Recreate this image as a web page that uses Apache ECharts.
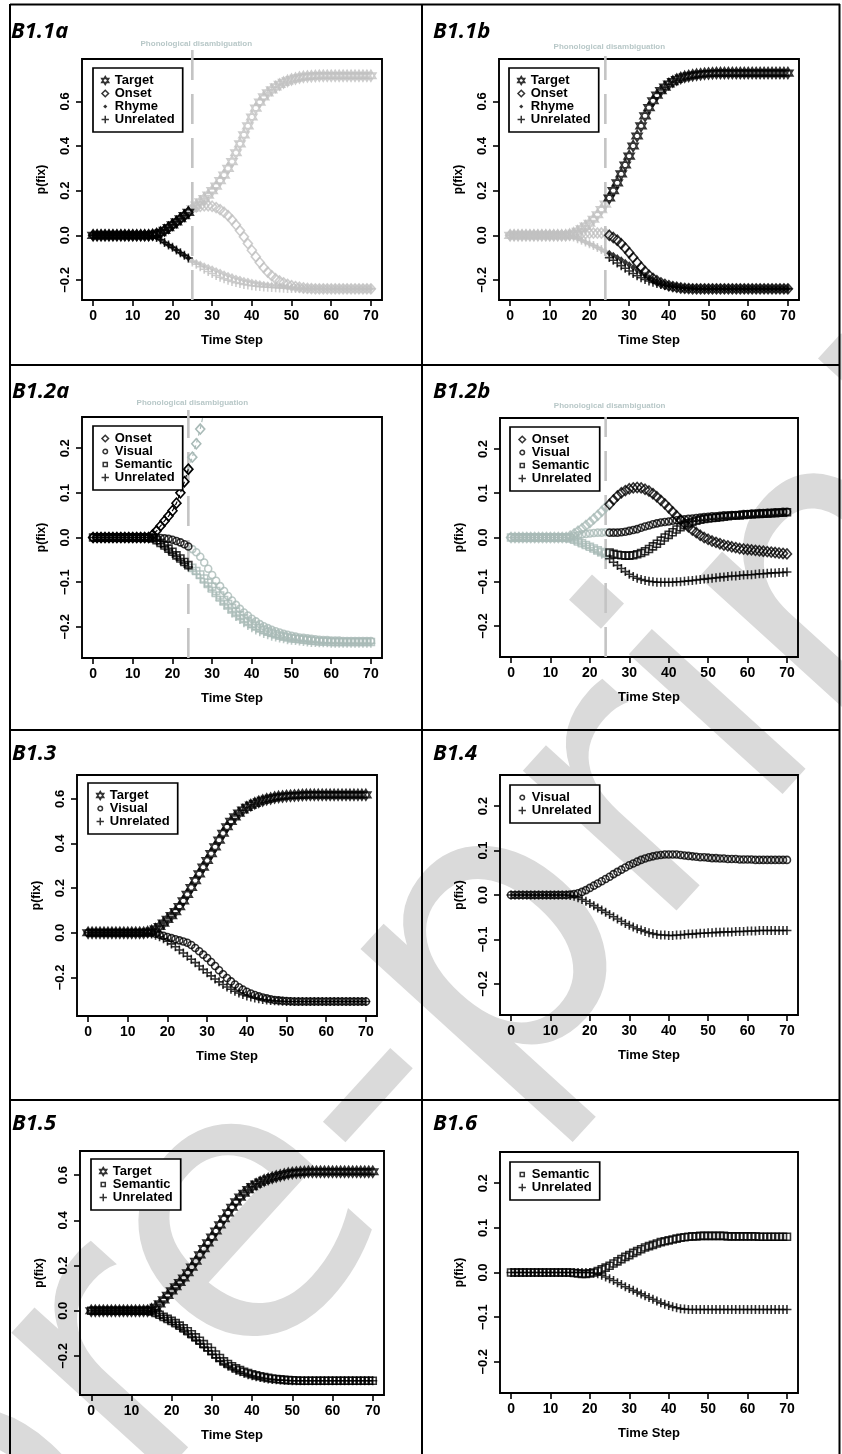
<!DOCTYPE html>
<html><head><meta charset="utf-8">
<script src="https://cdn.jsdelivr.net/npm/echarts@6/dist/echarts.min.js"></script>
<style>html,body{margin:0;padding:0;background:#fff}#c{width:842px;height:1454px}</style>
</head><body><div id="c"></div>
<script>
// ---------------- data ----------------
const timeSteps = [0,1,2,3,4,5,6,7,8,9,10,11,12,13,14,15,16,17,18,19,20,21,22,23,24,25,26,27,28,29,30,31,32,33,34,35,36,37,38,39,40,41,42,43,44,45,46,47,48,49,50,51,52,53,54,55,56,57,58,59,60,61,62,63,64,65,66,67,68,69,70];
const xTicks = [0,10,20,30,40,50,60,70];
const yTicksWide = [-0.2,0,0.2,0.4,0.6];
const yTicksNarrow = [-0.2,-0.1,0,0.1,0.2];
const panelTitles = ['B1.1a','B1.1b','B1.2a','B1.2b','B1.3','B1.4','B1.5','B1.6'];
const disambiguationStep = [25,24,24,24];
const disambiguationLabel = 'Phonological disambiguation';
const xAxisTitle = 'Time Step';
const yAxisTitle = 'p(fix)';
const watermarkText = 'pre-print';

// B1.1a
const b11aTarget = [0,0,0,0,0,0,0,0,0,0,
0,0,0,0,0,.002,.006,.012,.022,.034,
.047,.06,.074,.088,.103,.12,.135,.15,.165,.18,
.2,.22,.245,.27,.3,.33,.37,.41,.45,.49,
.53,.57,.597,.62,.638,.652,.665,.676,.685,.692,
.698,.703,.707,.71,.712,.713,.714,.715,.715,.715,
.715,.715,.715,.715,.715,.715,.715,.715,.715,.715,
.715];
const b11aOnset = [0,0,0,0,0,0,0,0,0,0,
0,0,0,0,0,.002,.006,.012,.022,.034,
.047,.06,.074,.088,.103,.12,.126,.13,.132,.132,
.13,.124,.115,.103,.088,.069,.047,.021,-.007,-.037,
-.067,-.096,-.122,-.145,-.165,-.181,-.195,-.205,-.213,-.22,
-.226,-.23,-.233,-.236,-.238,-.239,-.24,-.24,-.24,-.24,
-.24,-.24,-.24,-.24,-.24,-.24,-.24,-.24,-.24,-.24,
-.24];
const b11aRhyme = [0,0,0,0,0,0,0,0,0,0,
0,0,0,0,0,-.003,-.01,-.02,-.032,-.043,
-.054,-.066,-.078,-.09,-.102,-.115,-.122,-.129,-.136,-.143,
-.15,-.158,-.165,-.172,-.179,-.185,-.191,-.196,-.201,-.205,
-.209,-.213,-.216,-.219,-.222,-.224,-.226,-.228,-.23,-.232,
-.233,-.234,-.235,-.236,-.237,-.238,-.239,-.239,-.24,-.24,
-.24,-.24,-.24,-.24,-.24,-.24,-.24,-.24,-.24,-.24,
-.24];
const b11aUnrelated = [0,0,0,0,0,0,0,0,0,0,
0,0,0,0,0,-.003,-.01,-.02,-.032,-.043,
-.054,-.066,-.078,-.09,-.102,-.12,-.13,-.141,-.152,-.162,
-.171,-.18,-.188,-.195,-.201,-.207,-.212,-.216,-.22,-.223,
-.226,-.228,-.23,-.232,-.233,-.234,-.235,-.236,-.237,-.238,
-.238,-.239,-.239,-.24,-.24,-.24,-.24,-.24,-.24,-.24,
-.24,-.24,-.24,-.24,-.24,-.24,-.24,-.24,-.24,-.24,
-.24];

// B1.1b
const b11bTarget = [0,0,0,0,0,0,0,0,0,0,
0,0,0,0,0,.003,.009,.018,.029,.041,
.054,.072,.092,.115,.14,.167,.2,.235,.275,.315,
.355,.4,.445,.49,.535,.572,.603,.628,.648,.664,
.678,.689,.698,.705,.71,.714,.717,.72,.722,.724,
.725,.726,.727,.727,.727,.727,.727,.727,.727,.727,
.727,.727,.727,.727,.727,.727,.727,.727,.727,.727,
.727];
const b11bOnset = [0,0,0,0,0,0,0,0,0,0,
0,0,0,0,0,.001,.003,.005,.007,.008,
.009,.01,.01,.01,.01,0,-.01,-.022,-.038,-.057,
-.078,-.1,-.122,-.143,-.162,-.179,-.193,-.204,-.213,-.22,
-.226,-.23,-.233,-.236,-.238,-.239,-.24,-.24,-.24,-.24,
-.24,-.24,-.24,-.24,-.24,-.24,-.24,-.24,-.24,-.24,
-.24,-.24,-.24,-.24,-.24,-.24,-.24,-.24,-.24,-.24,
-.24];
const b11bRhyme = [0,0,0,0,0,0,0,0,0,0,
0,0,0,0,0,-.003,-.008,-.015,-.022,-.03,
-.038,-.046,-.055,-.064,-.073,-.08,-.09,-.1,-.11,-.121,
-.132,-.144,-.156,-.168,-.179,-.189,-.198,-.206,-.213,-.219,
-.224,-.228,-.231,-.234,-.236,-.238,-.239,-.24,-.24,-.24,
-.24,-.24,-.24,-.24,-.24,-.24,-.24,-.24,-.24,-.24,
-.24,-.24,-.24,-.24,-.24,-.24,-.24,-.24,-.24,-.24,
-.24];
const b11bUnrelated = [0,0,0,0,0,0,0,0,0,0,
0,0,0,0,0,-.003,-.008,-.015,-.022,-.03,
-.038,-.046,-.055,-.064,-.073,-.1,-.112,-.124,-.136,-.148,
-.16,-.171,-.181,-.19,-.198,-.205,-.211,-.216,-.221,-.225,
-.228,-.231,-.233,-.235,-.237,-.238,-.239,-.24,-.24,-.24,
-.24,-.24,-.24,-.24,-.24,-.24,-.24,-.24,-.24,-.24,
-.24,-.24,-.24,-.24,-.24,-.24,-.24,-.24,-.24,-.24,
-.24];

// B1.2a (onset leaves the plot above 0.27 after step 27)
const b12aOnset = [0,0,0,0,0,0,0,0,0,0,
0,0,0,0,0,.006,.015,.026,.037,.048,
.06,.077,.1,.125,.153,.18,.21,.243,.285,.33,
null,null,null,null,null,null,null,null,null,null,
null,null,null,null,null,null,null,null,null,null,
null,null,null,null,null,null,null,null,null,null,
null,null,null,null,null,null,null,null,null,null,
null];
const b12aVisual = [0,0,0,0,0,0,0,0,0,0,
0,0,0,0,0,0,0,-.001,-.002,-.003,
-.005,-.008,-.011,-.015,-.02,-.026,-.033,-.043,-.056,-.07,
-.084,-.097,-.109,-.12,-.131,-.141,-.151,-.16,-.168,-.175,
-.182,-.188,-.194,-.199,-.203,-.207,-.21,-.213,-.216,-.218,
-.22,-.222,-.224,-.225,-.226,-.227,-.228,-.229,-.23,-.23,
-.231,-.231,-.231,-.232,-.232,-.232,-.232,-.232,-.232,-.232,
-.232];
const b12aSemantic = [0,0,0,0,0,0,0,0,0,0,
0,0,0,0,0,-.002,-.006,-.012,-.018,-.025,
-.032,-.04,-.047,-.055,-.062,-.068,-.075,-.083,-.092,-.101,
-.11,-.12,-.13,-.14,-.149,-.158,-.166,-.174,-.181,-.187,
-.193,-.198,-.203,-.207,-.211,-.214,-.217,-.22,-.222,-.224,
-.226,-.227,-.228,-.229,-.23,-.231,-.232,-.233,-.233,-.233,
-.234,-.234,-.234,-.234,-.234,-.234,-.234,-.234,-.234,-.234,
-.234];
const b12aUnrelated = [0,0,0,0,0,0,0,0,0,0,
0,0,0,0,0,-.003,-.008,-.014,-.021,-.028,
-.036,-.043,-.051,-.058,-.066,-.072,-.082,-.092,-.102,-.112,
-.122,-.132,-.142,-.151,-.16,-.169,-.177,-.184,-.191,-.197,
-.202,-.207,-.211,-.215,-.218,-.221,-.223,-.225,-.227,-.229,
-.23,-.231,-.232,-.233,-.234,-.235,-.235,-.236,-.236,-.236,
-.237,-.237,-.237,-.237,-.237,-.237,-.237,-.237,-.237,-.237,
-.237];

// B1.2b
const b12bOnset = [0,0,0,0,0,0,0,0,0,0,
0,0,0,0,0,.003,.008,.014,.02,.027,
.034,.042,.05,.059,.068,.075,.085,.094,.101,.106,
.11,.112,.113,.112,.109,.105,.099,.092,.084,.076,
.067,.058,.049,.04,.032,.024,.017,.011,.005,0,
-.004,-.008,-.011,-.014,-.017,-.019,-.021,-.023,-.025,-.026,
-.027,-.028,-.029,-.03,-.031,-.032,-.033,-.034,-.035,-.036,
-.037];
const b12bVisual = [0,0,0,0,0,0,0,0,0,0,
0,0,0,0,0,.001,.003,.005,.007,.008,
.009,.01,.011,.011,.012,.011,.011,.011,.012,.013,
.015,.017,.019,.022,.025,.027,.03,.032,.034,.035,
.036,.038,.039,.04,.041,.042,.043,.044,.045,.046,
.047,.048,.048,.049,.05,.05,.051,.051,.052,.053,
.053,.054,.054,.055,.055,.056,.056,.057,.057,.058,
.058];
const b12bSemantic = [0,0,0,0,0,0,0,0,0,0,
0,0,0,0,0,-.002,-.005,-.009,-.013,-.017,
-.021,-.025,-.029,-.033,-.036,-.034,-.037,-.039,-.04,-.041,
-.041,-.04,-.038,-.035,-.031,-.026,-.02,-.014,-.007,0,
.006,.012,.018,.023,.028,.032,.035,.038,.04,.042,
.043,.044,.045,.046,.047,.048,.049,.05,.05,.051,
.052,.052,.053,.053,.054,.054,.055,.055,.056,.056,
.057];
const b12bUnrelated = [0,0,0,0,0,0,0,0,0,0,
0,0,0,0,0,-.002,-.006,-.01,-.014,-.018,
-.023,-.028,-.033,-.038,-.043,-.048,-.056,-.063,-.07,-.077,
-.083,-.088,-.092,-.095,-.097,-.099,-.1,-.101,-.101,-.101,
-.101,-.101,-.1,-.1,-.099,-.098,-.097,-.096,-.095,-.094,
-.093,-.092,-.091,-.09,-.089,-.088,-.087,-.087,-.086,-.085,
-.084,-.084,-.083,-.082,-.082,-.081,-.08,-.08,-.079,-.079,
-.078];

// B1.3
const b13Target = [0,0,0,0,0,0,0,0,0,0,
0,0,0,0,0,.003,.008,.016,.028,.043,
.06,.077,.095,.117,.143,.172,.203,.234,.264,.294,
.324,.355,.385,.415,.446,.475,.499,.519,.536,.55,
.562,.572,.58,.587,.593,.598,.602,.606,.609,.611,
.613,.614,.615,.616,.617,.618,.618,.618,.618,.618,
.618,.618,.618,.618,.618,.618,.618,.618,.618,.618,
.618];
const b13Visual = [0,0,0,0,0,0,0,0,0,0,
0,0,0,0,0,0,-.001,-.004,-.009,-.014,
-.019,-.024,-.029,-.034,-.039,-.045,-.055,-.068,-.083,-.098,
-.113,-.131,-.149,-.168,-.186,-.203,-.218,-.232,-.244,-.255,
-.264,-.272,-.279,-.285,-.29,-.294,-.298,-.301,-.303,-.305,
-.306,-.307,-.308,-.308,-.308,-.308,-.308,-.308,-.308,-.308,
-.308,-.308,-.308,-.308,-.308,-.308,-.308,-.308,-.308,-.308,
-.308];
const b13Unrelated = [0,0,0,0,0,0,0,0,0,0,
0,0,0,0,0,-.002,-.006,-.011,-.018,-.027,
-.038,-.05,-.063,-.077,-.091,-.105,-.119,-.134,-.149,-.164,
-.179,-.193,-.207,-.22,-.232,-.243,-.253,-.262,-.27,-.277,
-.283,-.288,-.292,-.296,-.299,-.301,-.303,-.305,-.306,-.307,
-.308,-.308,-.308,-.308,-.308,-.308,-.308,-.308,-.308,-.308,
-.308,-.308,-.308,-.308,-.308,-.308,-.308,-.308,-.308,-.308,
-.308];

// B1.4
const b14Visual = [0,0,0,0,0,0,0,0,0,0,
0,0,0,0,0,.001,.002,.004,.007,.011,
.016,.021,.026,.031,.036,.041,.047,.052,.057,.062,
.067,.071,.075,.079,.082,.085,.087,.089,.09,.091,
.091,.091,.091,.09,.089,.088,.087,.086,.085,.085,
.084,.083,.083,.082,.082,.081,.081,.081,.08,.08,
.08,.08,.079,.079,.079,.079,.079,.079,.079,.079,
.079];
const b14Unrelated = [0,0,0,0,0,0,0,0,0,0,
0,0,0,0,0,-.001,-.003,-.006,-.01,-.014,
-.019,-.024,-.029,-.034,-.039,-.044,-.049,-.054,-.059,-.064,
-.068,-.072,-.076,-.079,-.082,-.085,-.087,-.089,-.09,-.09,
-.091,-.091,-.09,-.09,-.089,-.088,-.088,-.087,-.086,-.086,
-.085,-.085,-.084,-.084,-.083,-.083,-.083,-.082,-.082,-.082,
-.081,-.081,-.081,-.08,-.08,-.08,-.08,-.08,-.08,-.08,
-.08];

// B1.5
const b15Target = [0,0,0,0,0,0,0,0,0,0,
0,0,0,0,0,.006,.015,.03,.048,.068,
.088,.106,.125,.145,.168,.193,.219,.247,.275,.3,
.326,.353,.38,.407,.433,.458,.482,.503,.52,.536,
.549,.56,.569,.577,.583,.589,.594,.599,.603,.607,
.61,.612,.613,.614,.615,.615,.615,.615,.615,.615,
.615,.615,.615,.615,.615,.615,.615,.615,.615,.615,
.615];
const b15Semantic = [0,0,0,0,0,0,0,0,0,0,
0,0,0,0,0,-.003,-.01,-.018,-.027,-.036,
-.045,-.055,-.066,-.078,-.091,-.104,-.118,-.133,-.148,-.163,
-.178,-.194,-.209,-.224,-.236,-.246,-.255,-.263,-.27,-.276,
-.281,-.286,-.29,-.294,-.297,-.3,-.302,-.304,-.306,-.307,
-.308,-.309,-.31,-.31,-.31,-.31,-.31,-.31,-.31,-.31,
-.31,-.31,-.31,-.31,-.31,-.31,-.31,-.31,-.31,-.31,
-.31];
const b15Unrelated = [0,0,0,0,0,0,0,0,0,0,
0,0,0,0,0,-.004,-.012,-.021,-.031,-.041,
-.051,-.062,-.074,-.087,-.101,-.115,-.13,-.145,-.161,-.177,
-.193,-.208,-.222,-.234,-.245,-.254,-.263,-.27,-.277,-.283,
-.288,-.292,-.296,-.299,-.302,-.304,-.306,-.307,-.308,-.309,
-.31,-.31,-.31,-.31,-.31,-.31,-.31,-.31,-.31,-.31,
-.31,-.31,-.31,-.31,-.31,-.31,-.31,-.31,-.31,-.31,
-.31];

// B1.6
const b16Semantic = [0,0,0,0,0,0,0,0,0,0,
0,0,0,0,0,0,-.001,-.002,-.003,-.003,
-.002,0,.003,.007,.011,.015,.02,.025,.03,.035,
.039,.044,.048,.052,.056,.059,.062,.065,.068,.07,
.072,.074,.076,.078,.079,.08,.081,.081,.082,.082,
.082,.082,.082,.082,.082,.081,.081,.081,.081,.081,
.081,.081,.081,.08,.08,.08,.08,.08,.08,.08,
.08];
const b16Unrelated = [0,0,0,0,0,0,0,0,0,0,
0,0,0,0,0,0,0,0,0,0,
0,-.001,-.003,-.006,-.01,-.014,-.018,-.023,-.027,-.032,
-.036,-.04,-.044,-.048,-.052,-.056,-.06,-.064,-.068,-.071,
-.074,-.077,-.079,-.081,-.082,-.083,-.083,-.083,-.083,-.083,
-.083,-.083,-.083,-.083,-.083,-.083,-.083,-.083,-.083,-.083,
-.083,-.083,-.083,-.083,-.083,-.083,-.083,-.083,-.083,-.083,
-.083];

// ---------------- styles / layout ----------------
const FONT = '"Liberation Sans", Arial, Helvetica, sans-serif';
const INK = '#000000';
const GREY_LIGHT = '#c0c0c0';
const GREY_BLUE = '#a9bab7';
const LABEL_BLUE = '#a5b9b9';
const DASH_GREY = '#c4c4c4';
const STAR = 'path://M0,-10L8.66,5L-8.66,5Z M0,10L-8.66,-5L8.66,-5Z';
const PLUS = 'path://M0,-1L0,1M-1,0L1,0';
const SYMBOLS = {
  Target:   {symbol: STAR, size: [10, 11], fill: false},
  Onset:    {symbol: 'diamond', size: [9, 10], fill: false},
  Rhyme:    {symbol: 'diamond', size: [6, 7], fill: true},
  Unrelated:{symbol: PLUS, size: [9, 9], fill: false},
  Visual:   {symbol: 'circle', size: [7, 7], fill: false},
  Semantic: {symbol: 'rect', size: [7, 7], fill: false}
};
const STROKE = 1.6;
const LEGEND_ICONS = {
  Target: 'path://M-11,-11M11,11M0,-10L8.66,5L-8.66,5Z M0,10L-8.66,-5L8.66,-5Z',
  Onset: 'path://M-11,-11M11,11M0,-8L8,0L0,8L-8,0Z',
  Rhyme: 'path://M-11,-11M11,11M0,-5L5,0L0,5L-5,0Z',
  Unrelated: 'path://M-11,-11M11,11M0,-9L0,9M-9,0L9,0',
  Visual: 'path://M-11,-11M11,11M0,-5.5A5.5,5.5,0,1,1,0,5.5A5.5,5.5,0,1,1,0,-5.5Z',
  Semantic: 'path://M-11,-11M11,11M-5,-5L5,-5L5,5L-5,5Z'
};

const PANELS = [
  {grid:[82,59,300,241], y:[-0.29,0.79], ticks:yTicksWide, legend:[93,68], title:[11,32],
   split:{at:25, inkFirst:true, grey:GREY_LIGHT, line:disambiguationStep[0], topPx:9, labelPx:15},
   vars:[['Target',b11aTarget],['Onset',b11aOnset],['Rhyme',b11aRhyme],['Unrelated',b11aUnrelated]]},
  {grid:[499,59,300,241], y:[-0.29,0.79], ticks:yTicksWide, legend:[509,68], title:[433,32],
   split:{at:25, inkFirst:false, grey:GREY_LIGHT, line:disambiguationStep[1], topPx:3, labelPx:12.6},
   vars:[['Target',b11bTarget],['Onset',b11bOnset],['Rhyme',b11bRhyme],['Unrelated',b11bUnrelated]]},
  {grid:[82,417,300,241], y:[-0.27,0.27], ticks:yTicksNarrow, legend:[93,426], title:[12,392],
   split:{at:25, inkFirst:true, grey:GREY_BLUE, line:disambiguationStep[2], topPx:7, labelPx:14.6, connect:'Onset'},
   vars:[['Onset',b12aOnset],['Visual',b12aVisual],['Semantic',b12aSemantic],['Unrelated',b12aUnrelated]]},
  {grid:[500,418,298,239], y:[-0.27,0.27], ticks:yTicksNarrow, legend:[510,427], title:[433,392],
   split:{at:25, inkFirst:false, grey:GREY_BLUE, line:disambiguationStep[3], topPx:1, labelPx:12.6},
   vars:[['Onset',b12bOnset],['Visual',b12bVisual],['Semantic',b12bSemantic],['Unrelated',b12bUnrelated]]},
  {grid:[77,775,300,241], y:[-0.373,0.707], ticks:yTicksWide, legend:[88,783], title:[12,754],
   vars:[['Target',b13Target],['Visual',b13Visual],['Unrelated',b13Unrelated]]},
  {grid:[500,775,298,240], y:[-0.27,0.27], ticks:yTicksNarrow, legend:[510,785], title:[433,754],
   vars:[['Visual',b14Visual],['Unrelated',b14Unrelated]]},
  {grid:[80,1151,304,244], y:[-0.373,0.707], ticks:yTicksWide, legend:[91,1159], title:[12,1124],
   vars:[['Target',b15Target],['Semantic',b15Semantic],['Unrelated',b15Unrelated]]},
  {grid:[500,1152,298,241], y:[-0.27,0.27], ticks:yTicksNarrow, legend:[510,1162], title:[433,1124],
   vars:[['Semantic',b16Semantic],['Unrelated',b16Unrelated]]}
];

function pairs(values, from, to) {
  const out = [];
  for (let i = 0; i < timeSteps.length; i++) {
    const t = timeSteps[i];
    if (t >= from && t <= to && values[i] !== null && values[i] !== undefined) out.push([t, values[i]]);
  }
  return out;
}
function symStyle(name, color) {
  const s = SYMBOLS[name];
  return {
    symbol: s.symbol, symbolSize: s.size,
    itemStyle: {color: s.fill ? color : 'rgba(0,0,0,0)', borderColor: color, borderWidth: s.fill ? 0 : STROKE}
  };
}
function fmtY(v) {
  const a = Math.abs(v).toFixed(1);
  return (v < -1e-9 ? '\u2212' : '') + a;
}

const grids = [], xAxes = [], yAxes = [], series = [], legends = [], graphics = [];
const tStart = timeSteps[0], tEnd = timeSteps[timeSteps.length - 1];

PANELS.forEach((p, i) => {
  const [gl, gt, gw, gh] = p.grid;
  grids.push({left: gl, top: gt, width: gw, height: gh, show: true, borderColor: INK, borderWidth: 1.9,
              backgroundColor: 'rgba(0,0,0,0)', containLabel: false, outerBoundsMode: 'none'});
  const tickCommon = {show: true, inside: false, length: 6, lineStyle: {color: INK, width: 1.6}};
  xAxes.push({type: 'value', gridIndex: i, min: -2.8, max: 72.8, position: 'bottom',
    axisLine: {show: false, onZero: false}, splitLine: {show: false},
    axisTick: Object.assign({customValues: xTicks}, tickCommon),
    axisLabel: {customValues: xTicks, margin: 9, color: INK, fontFamily: FONT, fontSize: 14, fontWeight: 'bold'},
    name: xAxisTitle, nameLocation: 'middle', nameGap: 34, nameMoveOverlap: false,
    nameTextStyle: {color: INK, fontFamily: FONT, fontSize: 13, fontWeight: 'bold'}});
  yAxes.push({type: 'value', gridIndex: i, min: p.y[0], max: p.y[1], position: 'left',
    axisLine: {show: false, onZero: false}, splitLine: {show: false},
    axisTick: Object.assign({customValues: p.ticks}, tickCommon),
    axisLabel: {customValues: p.ticks, rotate: 90, margin: 10, formatter: fmtY, color: INK,
                fontFamily: FONT, fontSize: 13, fontWeight: 'bold'},
    name: yAxisTitle, nameLocation: 'middle', nameGap: 34, nameMoveOverlap: false,
    nameTextStyle: {color: INK, fontFamily: FONT, fontSize: 12, fontWeight: 'bold'}});

  // data series
  p.vars.forEach(([name, vals]) => {
    const ranges = [];
    if (p.split) {
      const a = p.split.at;
      ranges.push({r: [tStart, a - 1], color: p.split.inkFirst ? INK : p.split.grey, ink: p.split.inkFirst});
      ranges.push({r: [a, tEnd], color: p.split.inkFirst ? p.split.grey : INK, ink: !p.split.inkFirst});
    } else {
      ranges.push({r: [tStart, tEnd], color: INK, ink: true});
    }
    ranges.forEach((rg, k) => {
      const base = symStyle(name, rg.color);
      const connect = p.split && p.split.connect === name;
      const from = (connect && k === 1) ? rg.r[0] - 1 : rg.r[0];
      const s = Object.assign({
        type: connect ? 'line' : 'scatter',
        name: rg.ink ? name : name + ' (grey)',
        xAxisIndex: i, yAxisIndex: i,
        data: pairs(vals, from, rg.r[1]),
        silent: true, clip: true, z: rg.ink ? 3 : 2
      }, base);
      if (connect) {
        s.showSymbol = true;
        s.lineStyle = {color: rg.color, width: 1.2, type: [4, 3]};
      }
      series.push(s);
    });
  });

  // disambiguation line
  if (p.split) {
    const span = p.y[1] - p.y[0];
    const top = p.y[1] + p.split.topPx * span / gh;
    const lab = p.y[1] + p.split.labelPx * span / gh;
    series.push({type: 'line', xAxisIndex: i, yAxisIndex: i, silent: true, clip: false, symbol: 'none', z: 1,
      data: [[p.split.line, p.y[0]], [p.split.line, top]],
      lineStyle: {color: DASH_GREY, width: 2.6, type: [30, 14]}});
    series.push({type: 'scatter', xAxisIndex: i, yAxisIndex: i, silent: true, clip: false, z: 1,
      data: [[p.split.line, lab]], symbolSize: 1, itemStyle: {color: 'rgba(0,0,0,0)'},
      label: {show: true, position: 'inside', offset: [4, 0], formatter: disambiguationLabel,
              color: LABEL_BLUE, fontFamily: FONT, fontSize: 8, fontWeight: 'bold'}});
  }

  legends.push({
    orient: 'vertical', left: p.legend[0], top: p.legend[1], itemGap: 0, itemWidth: 9, itemHeight: 9,
    padding: [6, 8, 6, 7], borderColor: INK, borderWidth: 1.7, backgroundColor: '#fff', borderRadius: 0,
    selectedMode: false, z: 6,
    textStyle: {fontFamily: FONT, fontSize: 13, fontWeight: 'bold', color: INK, lineHeight: 12.5},
    data: p.vars.map(([name]) => ({
      name: name, icon: LEGEND_ICONS[name],
      itemStyle: {color: SYMBOLS[name].fill ? INK : 'rgba(0,0,0,0)', borderColor: INK,
                  borderWidth: SYMBOLS[name].fill ? 0 : 1.5}
    }))
  });

  graphics.push({type: 'text', x: p.title[0], y: p.title[1], z: 10,
    style: {text: panelTitles[i], font: 'italic 700 22px "Open Sans", "Noto Sans", sans-serif',
            fill: INK, align: 'left', verticalAlign: 'middle'}});
});

// watermark (behind everything)
graphics.unshift({type: 'text', x: 47, y: 1738, rotation: 47.7 * Math.PI / 180, z: -5, silent: true,
  style: {text: watermarkText, font: 'normal 380px "DejaVu Sans", "Open Sans", sans-serif',
          fill: '#dadada', align: 'left', verticalAlign: 'bottom'}});

// panel frame
const frameLines = [[10,4.5,840,4.5],[10,4,10,1454],[839.5,4,839.5,1454],[422,4,422,1454],
  [10,365,840,365],[10,730,840,730],[10,1100,840,1100]];
frameLines.forEach(l => graphics.push({type: 'line', z: 10, silent: true,
  shape: {x1: l[0], y1: l[1], x2: l[2], y2: l[3]}, style: {stroke: INK, lineWidth: 2}}));

const chart = echarts.init(document.getElementById('c'), null, {renderer: 'canvas'});
chart.setOption({
  animation: false,
  backgroundColor: '#fff',
  grid: grids, xAxis: xAxes, yAxis: yAxes, series: series, legend: legends,
  graphic: {elements: graphics}
});
</script></body></html>
